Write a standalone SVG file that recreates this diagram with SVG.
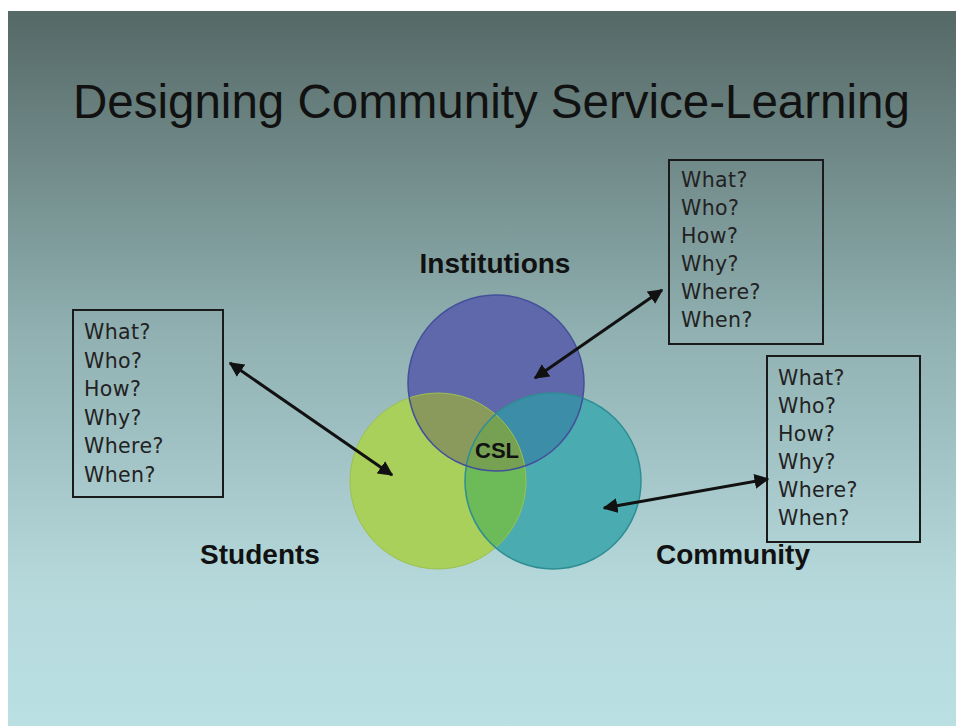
<svg xmlns="http://www.w3.org/2000/svg" width="956" height="726" viewBox="0 0 956 726">
<defs>
<linearGradient id="bg" x1="0" y1="0" x2="0" y2="1">
<stop offset="0" stop-color="#556966"/>
<stop offset="0.45" stop-color="#90b0b1"/>
<stop offset="0.8" stop-color="#b5d8db"/>
<stop offset="1" stop-color="#bae0e3"/>
</linearGradient>
<clipPath id="cB"><circle cx="496" cy="383" r="88"/></clipPath>
<clipPath id="cG"><circle cx="438" cy="481" r="88"/></clipPath>
<clipPath id="cT"><circle cx="553" cy="481" r="88"/></clipPath>
<marker id="ah" viewBox="0 0 10 10" refX="9" refY="5" markerWidth="5" markerHeight="5" orient="auto-start-reverse" markerUnits="strokeWidth">
<path d="M0,0 L10,5 L0,10 Z" fill="#111"/>
</marker>
<style>
.title{font-family:"Liberation Sans",Arial,sans-serif;font-size:47.5px;fill:#111}
.lbl{font-family:"Liberation Sans",Arial,sans-serif;font-weight:bold;font-size:28px;fill:#111}
.csl{font-family:"Liberation Sans",Arial,sans-serif;font-weight:bold;font-size:22px;fill:#111}
.q{font-family:"DejaVu Sans",sans-serif;font-size:20.5px;letter-spacing:0.4px;fill:#222}
.box{fill:none;stroke:#1a1a1a;stroke-width:2}
.arr{stroke:#111;stroke-width:3;fill:none}
</style>
</defs>
<rect x="0" y="0" width="956" height="726" fill="#ffffff"/>
<rect x="8" y="11" width="948" height="715" fill="url(#bg)"/>
<text class="title" x="73" y="118">Designing Community Service-Learning</text>

<g id="students">
<circle cx="438" cy="481" r="88" fill="#a9d05a"/>
<text class="lbl" x="260" y="564" text-anchor="middle">Students</text>
</g>
<g id="community">
<circle cx="553" cy="481" r="88" fill="#4aacb0"/>
<text class="lbl" x="733" y="564" text-anchor="middle">Community</text>
</g>
<g id="institutions">
<circle cx="496" cy="383" r="88" fill="#5f68aa"/>
<text class="lbl" x="495" y="273" text-anchor="middle">Institutions</text>
</g>
<g id="overlaps">
<g clip-path="url(#cG)"><circle cx="553" cy="481" r="88" fill="#6dbb58"/></g>
<g clip-path="url(#cG)"><circle cx="496" cy="383" r="88" fill="#8a9a5c"/></g>
<g clip-path="url(#cT)"><circle cx="496" cy="383" r="88" fill="#3c8ea8"/></g>
<g clip-path="url(#cG)"><g clip-path="url(#cT)"><circle cx="496" cy="383" r="88" fill="#76a052"/></g></g>
<circle cx="438" cy="481" r="88" fill="none" stroke="#9cc050" stroke-width="1"/>
<circle cx="553" cy="481" r="88" fill="none" stroke="#2f8e94" stroke-width="1.5"/>
<circle cx="496" cy="383" r="88" fill="none" stroke="#43509a" stroke-width="1.5"/>
</g>
<g id="csl">
<text class="csl" x="497" y="458" text-anchor="middle">CSL</text>
</g>

<g id="box-students">
<rect class="box" x="73" y="310" width="150" height="187"/>
<text class="q" x="84" y="339">What?</text>
<text class="q" x="84" y="367.5">Who?</text>
<text class="q" x="84" y="396">How?</text>
<text class="q" x="84" y="424.5">Why?</text>
<text class="q" x="84" y="453">Where?</text>
<text class="q" x="84" y="481.5">When?</text>
</g>
<g id="box-institutions">
<rect class="box" x="669" y="160" width="154" height="184"/>
<text class="q" x="681" y="187">What?</text>
<text class="q" x="681" y="215">Who?</text>
<text class="q" x="681" y="243">How?</text>
<text class="q" x="681" y="271">Why?</text>
<text class="q" x="681" y="299">Where?</text>
<text class="q" x="681" y="327">When?</text>
</g>
<g id="box-community">
<rect class="box" x="767" y="356" width="153" height="186"/>
<text class="q" x="778" y="385">What?</text>
<text class="q" x="778" y="413">Who?</text>
<text class="q" x="778" y="441">How?</text>
<text class="q" x="778" y="469">Why?</text>
<text class="q" x="778" y="497">Where?</text>
<text class="q" x="778" y="525">When?</text>
</g>

<g id="connectors">
<line class="arr" x1="230" y1="363" x2="392" y2="475" marker-start="url(#ah)" marker-end="url(#ah)"/>
<line class="arr" x1="535" y1="378" x2="662" y2="290" marker-start="url(#ah)" marker-end="url(#ah)"/>
<line class="arr" x1="604" y1="508" x2="768" y2="479" marker-start="url(#ah)" marker-end="url(#ah)"/>
</g>
</svg>
